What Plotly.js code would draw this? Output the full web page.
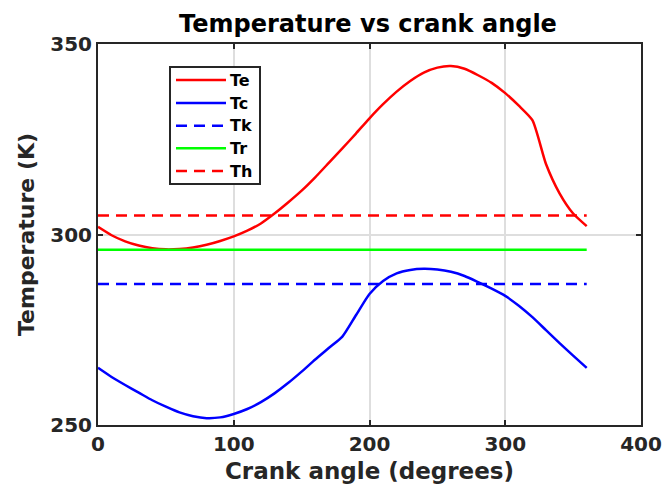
<!DOCTYPE html>
<html>
<head>
<meta charset="utf-8">
<script src="https://cdn.plot.ly/plotly-3.0.1.min.js"></script>
<style>html,body{margin:0;padding:0;background:#fff;}#chart{width:663px;height:496px;}</style>
</head>
<body>
<div id="chart"></div>
<script>
// Crank angle (degrees)
const angle = [0,10,20,30,40,50,60,70,80,90,100,110,120,130,140,150,160,170,180,190,200,210,220,230,240,250,260,270,280,290,300,310,320,330,340,350,360];
// Expansion space temperature Te (K)
const Te = [302.0,299.8,298.2,297.1,296.4,296.1,296.2,296.6,297.3,298.3,299.5,301.0,302.9,305.5,308.4,311.5,315.0,318.8,322.6,326.5,330.5,334.2,337.5,340.3,342.5,343.8,344.2,343.5,341.8,339.8,337.1,333.8,330.0,318.5,310.8,305.5,302.2];
// Compression space temperature Tc (K)
const Tc = [265.0,262.6,260.5,258.5,256.5,254.8,253.3,252.3,251.8,252.0,252.9,254.2,256.0,258.3,261.0,264.0,267.2,270.2,273.2,278.8,284.4,287.8,289.8,290.7,291.0,290.8,290.2,289.1,287.5,285.8,283.9,281.3,278.3,274.9,271.5,268.2,265.0];
// Constant temperatures (K)
const TkVal = 287;
const TrVal = 296;
const ThVal = 305;
const Tk = angle.map(() => TkVal);
const Tr = angle.map(() => TrVal);
const Th = angle.map(() => ThVal);
const seriesNames = ['Te','Tc','Tk','Tr','Th'];
const xTicks = [0,100,200,300,400];
const yTicks = [250,300,350];

const FONT = 'DejaVu Sans, Arial, sans-serif';
const AX = '#262626';
const DASH = '11px,7px';

const styles = [
  {color: '#ff0000', dash: 'solid'},
  {color: '#0000ff', dash: 'solid'},
  {color: '#0000ff', dash: DASH},
  {color: '#00ff00', dash: 'solid'},
  {color: '#ff0000', dash: DASH}
];
const ys = [Te, Tc, Tk, Tr, Th];

const traces = ys.map((y, i) => ({
  x: angle, y: y, name: seriesNames[i], mode: 'lines', showlegend: false,
  line: {color: styles[i].color, width: 2.5, dash: styles[i].dash, shape: (i < 2 ? 'spline' : 'linear'), smoothing: 0.6}
}));

// Plot area in pixels (for legend placement)
const PL = 98, PR = 641, PT = 44, PB = 425;
const px = v => (v - PL) / (PR - PL);
const py = v => (PB - v) / (PB - PT);

const shapes = [
  {type: 'rect', xref: 'paper', yref: 'paper', x0: px(170), x1: px(260), y0: py(184), y1: py(67),
   line: {color: AX, width: 2}, fillcolor: '#ffffff', layer: 'above'}
];
const annotations = [];
const legY = [80, 103, 125.7, 148.3, 171];
seriesNames.forEach((n, i) => {
  shapes.push({type: 'line', xref: 'paper', yref: 'paper', x0: px(176), x1: px(226), y0: py(legY[i]), y1: py(legY[i]),
    line: {color: styles[i].color, width: 2.5, dash: styles[i].dash}, layer: 'above'});
  annotations.push({xref: 'paper', yref: 'paper', x: px(228), y: py(legY[i]), xanchor: 'left', yanchor: 'middle',
    text: '<b>' + n + '</b>', showarrow: false, font: {family: FONT, size: 16, color: '#000'}});
});

const axisCommon = {
  showline: true, linecolor: AX, linewidth: 2, mirror: 'ticks',
  ticks: 'inside', ticklen: 5, tickwidth: 2, tickcolor: AX,
  showgrid: true, gridcolor: '#dedede', gridwidth: 2,
  zeroline: false, tickfont: {family: FONT, size: 20, color: AX, weight: 'bold'}
};

const layout = {
  width: 663, height: 496,
  margin: {l: 98, r: 22, t: 44, b: 71},
  paper_bgcolor: '#ffffff', plot_bgcolor: '#ffffff',
  title: {text: '<b>Temperature vs crank angle</b>', font: {family: FONT, size: 24, color: '#000'}, x: 0.555, xanchor: 'center', y: 0.952, yanchor: 'middle'},
  xaxis: Object.assign({}, axisCommon, {
    range: [0, 400], tickvals: xTicks, ticktext: xTicks.map(String),
    title: {text: '<b>Crank angle (degrees)</b>', font: {family: FONT, size: 23, color: AX}, standoff: 8}
  }),
  yaxis: Object.assign({}, axisCommon, {
    range: [250, 350], tickvals: yTicks, ticktext: yTicks.map(String),
    title: {text: '<b>Temperature (K)</b>', font: {family: FONT, size: 22, color: AX}, standoff: 10}
  }),
  showlegend: false,
  shapes: shapes,
  annotations: annotations
};

Plotly.newPlot('chart', traces, layout, {displayModeBar: false, staticPlot: true});
</script>
</body>
</html>
